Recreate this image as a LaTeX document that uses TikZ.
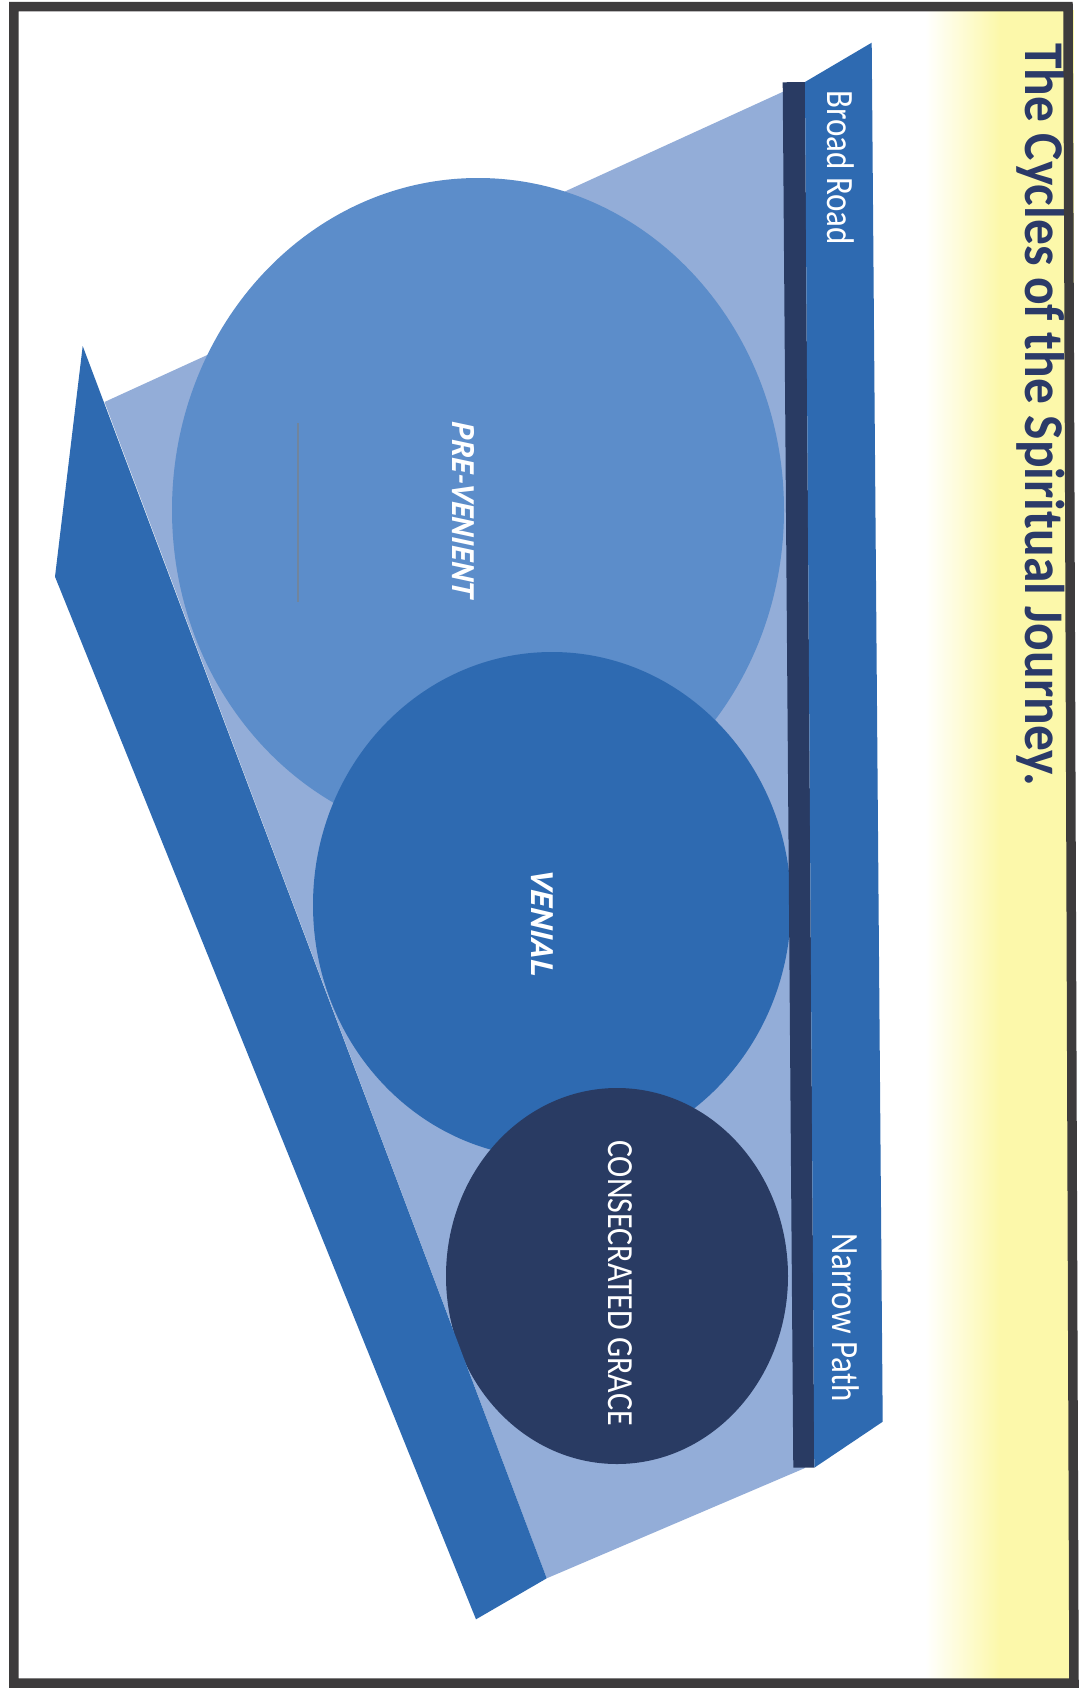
\documentclass[tikz,border=0pt]{standalone}
\usepackage{fontspec}
\setmainfont{Carlito}
\newfontfamily\ptsans{PT Sans}
\definecolor{lightreg}{HTML}{93ADD8}
\definecolor{prec}{HTML}{5C8DCA}
\definecolor{midblue}{HTML}{2E6AB1}
\definecolor{darknavy}{HTML}{293B63}
\definecolor{titlec}{HTML}{2B3A68}
\definecolor{bordc}{HTML}{3D3B3C}
\definecolor{ylw}{HTML}{FCF8AA}
\begin{document}
\begin{tikzpicture}[x=1pt,y=-1pt,
  vlabel/.style={rotate=-90,inner sep=0pt,text=white},
  roadlabel/.style={vlabel,anchor=base west,font=\fontsize{33}{40}\selectfont},
  circlabel/.style={vlabel,anchor=center,font=\ptsans\fontsize{31}{37}\selectfont\bfseries\itshape},
  titlelabel/.style={rotate=-90,inner sep=0pt,anchor=base west,text=titlec,font=\fontsize{51}{60}\selectfont\bfseries}]
\useasboundingbox (0,0) rectangle (1086,1690);
\fill[white] (0,0) rectangle (1086,1690);
% yellow title band
\shade[left color=white,right color=ylw] (925,10) rectangle (1000,1680);
\fill[ylw] (999,10) rectangle (1074,1680);
% light region
\fill[lightreg] (800,84) -- (104.5,402) -- (546.7,1578.3) -- (805,1468) -- cycle;
% ellipses
\fill[prec] (478,510) ellipse [x radius=306pt, y radius=332pt];
\draw[line width=1.2pt,color=gray!60!prec] (298,423) -- (298,602);
\fill[midblue] (552,905) ellipse [x radius=239pt, y radius=253pt];
\fill[darknavy] (617,1276) ellipse [x radius=171pt, y radius=188pt];
% left band
\fill[midblue] (82.7,346) -- (55,576.7) -- (476,1619.3) -- (546.7,1578.3) -- cycle;
% right bar and strip
\fill[darknavy] (782.7,82.3) -- (805,82) -- (814.3,1467.7) -- (793.3,1467.7) -- cycle;
\fill[midblue] (805,82) -- (871.7,42.7) -- (882.7,1421.7) -- (814.3,1467.7) -- cycle;
% labels
\node[titlelabel] (title) at (1025,43) {\scalebox{1.01}[1.1]{The Cycles of the Spiritual Journey.}};
\node[roadlabel] (broad) at (827,90) {\scalebox{1}[1.17]{Broad Road}};
\node[roadlabel] (narrow) at (832,1233) {\scalebox{1}[1.17]{Narrow Path}};
\node[circlabel] (prevenient) at (463,510) {\scalebox{1.01}[1]{PRE-VENIENT}};
\node[circlabel] (venial) at (542,923) {\scalebox{1.12}[1]{VENIAL}};
\node[vlabel,anchor=center,font=\fontsize{32}{38}\selectfont] (grace) at (620,1283) {\scalebox{1}[1.15]{CONSECRATED GRACE}};
% frame
\draw[bordc,line width=9.5pt,line join=miter] (13.8,6.7) -- (1068,6.7) -- (1074,1683) -- (13.8,1683) -- cycle;
\end{tikzpicture}
\end{document}
